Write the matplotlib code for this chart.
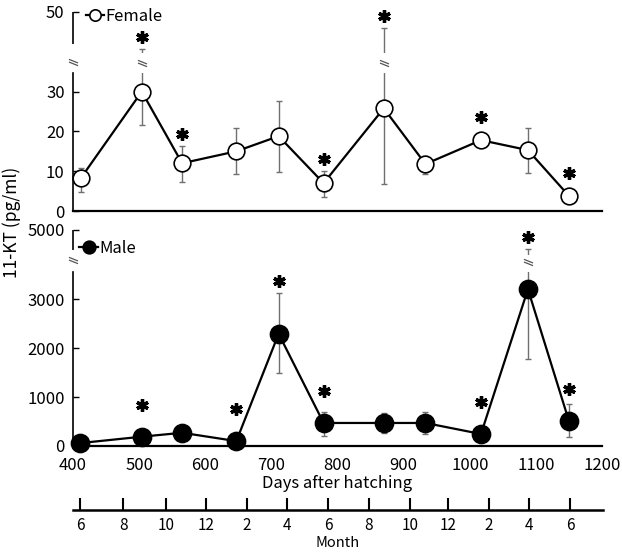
import numpy as np
import matplotlib
matplotlib.use("Agg")
import matplotlib.pyplot as plt
from matplotlib.path import Path

plt.rcParams['font.family'] = ['Noto Sans CJK JP', 'DejaVu Sans']

# ---- data ----
fem_days = [412, 504, 565, 647, 711, 779, 870, 933, 1017, 1088, 1150]
fem_mean = [8.3, 30.0, 12.0, 15.0, 18.8, 7.0, 25.8, 11.8, 17.8, 15.3, 3.8]
fem_lo = [3.5, 8.3, 4.8, 5.8, 9.0, 3.5, 19.0, 2.5, 1.8, 5.8, 0.5]
fem_hi = [2.5, 10.8, 4.3, 5.8, 8.8, 3.0, 20.3, 2.0, 1.5, 5.5, 0.5]
fem_star = [0, 1, 1, 0, 0, 1, 1, 0, 1, 0, 1]

male_days = [411, 504, 565, 647, 711, 779, 870, 933, 1017, 1088, 1150]
male_mean = [60, 190, 270, 100, 2290, 470, 470, 470, 245, 3200, 510]
male_lo = [0, 0, 0, 0, 800, 270, 200, 220, 0, 1420, 330]
male_hi = [0, 0, 0, 0, 830, 220, 200, 220, 0, 1146, 350]
male_star = [0, 1, 0, 1, 1, 1, 0, 0, 1, 1, 1]

day_ticks = [400, 500, 600, 700, 800, 900, 1000, 1100, 1200]
fem_yticks = [0, 10, 20, 30, 50]
male_yticks = [0, 1000, 2000, 3000, 5000]

month_days = [411, 476, 541, 601, 663, 724, 786, 848, 910, 967, 1029, 1090, 1152]
month_labels = ['6', '8', '10', '12', '2', '4', '6', '8', '10', '12', '2', '4', '6']

# y-axis breaks (values)
fem_break = dict(axis_gap=(34.75, 42.0), axis_mark=37.5, bar_gap=(34.75, 39.75), bar_mark=37.25)
male_break = dict(axis_gap=(3550, 4310), axis_mark=3966, bar_gap=(3550, 4138), bar_mark=3896)

# "//" break symbol
BRK = Path([(-1, 0.7), (1, -0.1), (-1, 0.1), (1, -0.7)],
           [Path.MOVETO, Path.LINETO, Path.MOVETO, Path.LINETO])


def squash_scale(brk, k):
    def fwd(y):
        y = np.asarray(y, dtype=float)
        return np.where(y <= brk, y, brk + (y - brk) * k)

    def inv(y):
        y = np.asarray(y, dtype=float)
        return np.where(y <= brk, y, brk + (y - brk) / k)
    return fwd, inv


W, H = 622, 553
fig = plt.figure(figsize=(W / 100, H / 100), dpi=100)


def px_axes(left, top, right, bottom):
    return fig.add_axes([left / W, 1 - bottom / H, (right - left) / W, (bottom - top) / H])


def brk_mark(ax, x, y, transform=None):
    kw = dict(marker=BRK, ms=6.5, mew=0.9, color='#555555', ls='none',
              zorder=5, clip_on=False)
    if transform is not None:
        kw['transform'] = transform
    ax.plot([x], [y], **kw)


def draw_panel(ax, days, mean, lo, hi, face, ms, label, ylim, yticks, br):
    ax.set_xlim(400, 1200)
    ax.set_ylim(*ylim)
    ax.errorbar(days, mean, yerr=[lo, hi], fmt='none', ecolor='#707070',
                elinewidth=1.0, capsize=2.2, capthick=1.0, zorder=2)
    tops = np.array(mean) + np.array(hi)
    for x, t in zip(days, tops):
        if t > br['bar_gap'][1]:
            ax.plot([x, x], br['bar_gap'], color='white', lw=4,
                    solid_capstyle='butt', zorder=2.5)
            brk_mark(ax, x, br['bar_mark'])
    line, = ax.plot(days, mean, color='black', lw=1.6, marker='o', ms=ms,
                    mfc=face, mec='black', mew=1.2, label=label, zorder=3,
                    clip_on=False)

    for s in ['top', 'right']:
        ax.spines[s].set_visible(False)
    ax.spines['bottom'].set_linewidth(1.6)
    ax.spines['left'].set_linewidth(1.2)
    ax.spines['left'].set_bounds(ylim[0], br['axis_gap'][0])
    ax.plot([0, 0], [br['axis_gap'][1], ylim[1]], transform=ax.get_yaxis_transform(),
            color='black', lw=1.2, clip_on=False, solid_capstyle='butt')
    brk_mark(ax, 0, br['axis_mark'], transform=ax.get_yaxis_transform())

    ax.set_yticks(yticks)
    ax.tick_params(axis='y', direction='in', length=4, width=1.0, labelsize=12, pad=6)
    ax.set_xticks(day_ticks)
    return line


def add_stars(ax, days, mean, hi, flags, ctr_off):
    tr = ax.transData
    for x, m, h, f in zip(days, mean, hi, flags):
        if not f:
            continue
        xp, ctr = tr.transform((x, m))
        cap = tr.transform((x, m + h))[1]
        yp = max(cap + 12, ctr + ctr_off)
        y = tr.inverted().transform((xp, yp))[1]
        ax.plot([x], [y], marker=(6, 2, 0), ms=9, mew=2.4, color='black',
                ls='none', clip_on=False, zorder=4)


# ---- Female ----
ax_f = px_axes(73, 12, 602, 211)
fline = draw_panel(ax_f, fem_days, fem_mean, fem_lo, fem_hi, 'white', 12,
                   'Female', (0, 50), fem_yticks, fem_break)
ax_f.tick_params(axis='x', length=0, labelbottom=False)
ax_f.legend(handles=[fline], loc='upper left', bbox_to_anchor=(0.024, 1.02),
            frameon=False, handlelength=1.1, handletextpad=0.1, borderpad=0,
            borderaxespad=0, markerscale=0.68, fontsize=12)

# ---- Male ----
ax_m = px_axes(73, 230, 602, 446)
fwd, inv = squash_scale(3550, 0.592)
ax_m.set_yscale('function', functions=(fwd, inv))
mline = draw_panel(ax_m, male_days, male_mean, male_lo, male_hi, 'black', 13,
                   'Male', (0, 5000), male_yticks, male_break)
ax_m.tick_params(axis='x', length=0, labelsize=12, pad=8)
ax_m.set_xlabel('Days after hatching', fontsize=12, labelpad=1)
ax_m.legend(handles=[mline], loc='upper left', bbox_to_anchor=(0.012, 0.955),
            frameon=False, handlelength=1.1, handletextpad=0.1, borderpad=0,
            borderaxespad=0, markerscale=0.7, fontsize=12)

add_stars(ax_f, fem_days, fem_mean, fem_hi, fem_star, 23)
add_stars(ax_m, male_days, male_mean, male_hi, male_star, 32)

fig.text(12 / W, 1 - 222 / H, '11-KT (pg/ml)', rotation=90, ha='center',
         va='center', fontsize=12.5)

# ---- Month axis ----
ax_mo = px_axes(73, 500, 603, 510)
ax_mo.set_xlim(400, 1202)
ax_mo.set_ylim(0, 1)
for s in ['top', 'right', 'left']:
    ax_mo.spines[s].set_visible(False)
ax_mo.spines['bottom'].set_linewidth(1.8)
ax_mo.set_yticks([])
ax_mo.set_xticks(month_days)
ax_mo.set_xticklabels(month_labels)
ax_mo.tick_params(axis='x', direction='in', length=9, width=1.5, labelsize=11, pad=5)
ax_mo.set_xlabel('Month', fontsize=10.5, labelpad=1.5)
ax_mo.patch.set_visible(False)

fig.savefig('out.png', dpi=100)
